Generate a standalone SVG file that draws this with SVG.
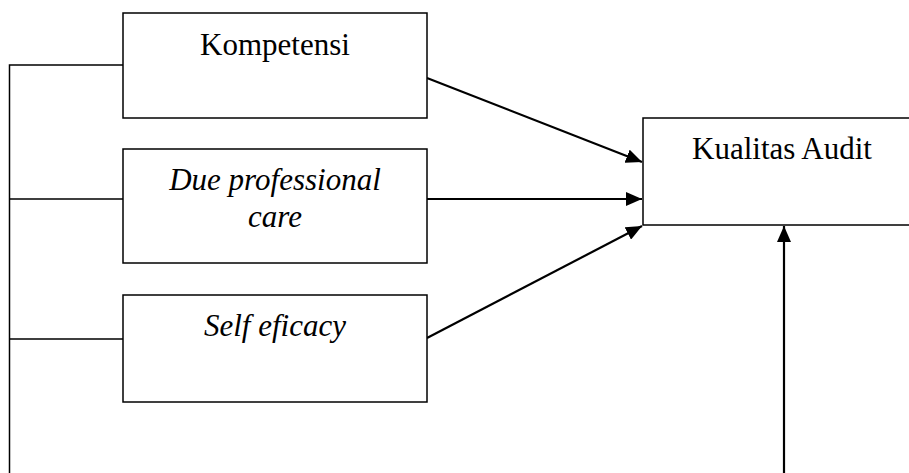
<svg xmlns="http://www.w3.org/2000/svg" width="909" height="473" viewBox="0 0 909 473">
<style>
.box{fill:#fff;stroke:#000;stroke-width:1.5}
.t{font-family:"Liberation Serif","Times New Roman",serif;font-size:31px;fill:#000;text-anchor:middle}
.i{font-style:italic}
.ln{fill:none;stroke:#000;stroke-width:1.5}
.ar{fill:none;stroke:#000;stroke-width:2.2;marker-end:url(#ah)}
</style>
<defs>
<marker id="ah" viewBox="0 0 16 14" refX="16" refY="7" markerWidth="16" markerHeight="14" markerUnits="userSpaceOnUse" orient="auto">
<path d="M0,0 L16,7 L0,14 z" fill="#000"/>
</marker>
</defs>
<rect width="909" height="473" fill="#fff"/>
<g id="connectors">
<path class="ln" d="M9.5,473 V65 H123 M9.5,199 H123 M9.5,339 H123"/>
<line class="ar" x1="427" y1="78" x2="642" y2="162"/>
<line class="ar" x1="427" y1="199" x2="642" y2="199"/>
<line class="ar" x1="427" y1="338" x2="642" y2="226"/>
<line class="ar" x1="784" y1="473" x2="784" y2="226"/>
</g>
<g id="kompetensi">
<rect class="box" x="123" y="13" width="304" height="105"/>
<text class="t" x="275" y="55">Kompetensi</text>
</g>
<g id="due">
<rect class="box" x="123" y="149" width="304" height="114"/>
<text class="t i" x="275" y="190">Due professional</text>
<text class="t i" x="275" y="227">care</text>
</g>
<g id="self">
<rect class="box" x="123" y="295" width="304" height="107"/>
<text class="t i" x="275" y="336">Self eficacy</text>
</g>
<g id="kualitas">
<rect class="box" x="643" y="118" width="280" height="107"/>
<text class="t" x="782" y="159">Kualitas Audit</text>
</g>
</svg>
